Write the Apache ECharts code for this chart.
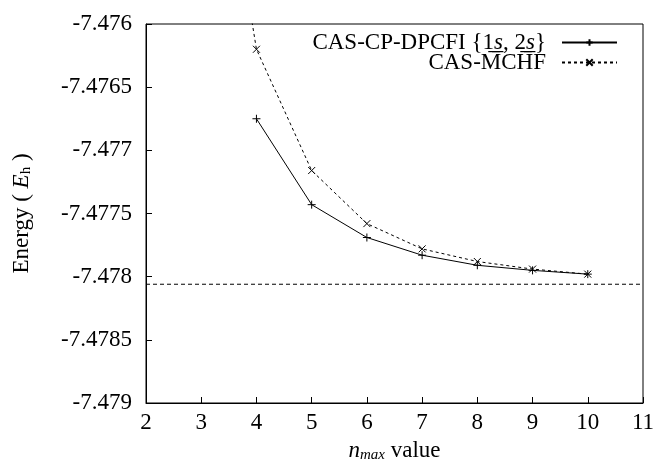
<!DOCTYPE html>
<html>
<head>
<meta charset="utf-8">
<script src="https://cdn.jsdelivr.net/npm/echarts@6/dist/echarts.min.js"></script>
<style>
  html, body { margin: 0; padding: 0; background: #fff; }
</style>
</head>
<body>
<div id="myChart" style="width: 654px; height: 465px;"></div>
<script>
// n_max values
var nmax = [3, 4, 5, 6, 7, 8, 9, 10];
// CAS-CP-DPCFI {1s,2s}
var dpcfiX = [4, 5, 6, 7, 8, 9, 10];
var dpcfiE = [-7.47675, -7.47743, -7.47769, -7.47783, -7.47791, -7.47795, -7.47798];
// CAS-MCHF (point at 3 lies above the plot range)
var mchfE = [-7.4735, -7.47620, -7.47716, -7.47758, -7.47778, -7.47788, -7.47794, -7.47798];
// reference energy (dashed horizontal line across the plot)
var refX = [2, 11];
var refEnergy = -7.47806;

var names = ["CAS-CP-DPCFI", "CAS-MCHF"];
var font = "Liberation Serif";
var fs = 23;

var myChart = echarts.init(document.getElementById("myChart"));

myChart.setOption({
  animation: false,
  textStyle: { fontFamily: font, color: "#000" },
  grid: {
    left: 146, right: 11, top: 24, bottom: 62,
    containLabel: false,
    outerBoundsMode: "none",
    show: true, borderColor: "#000", borderWidth: 1
  },
  legend: {
    orient: "vertical",
    right: 31,
    top: 26,
    align: "right",
    itemWidth: 55,
    itemHeight: 8,
    itemGap: -3,
    data: names,
    textStyle: {
      fontFamily: font, fontSize: fs, color: "#000",
      padding: [0, 11, 0, 0],
      rich: {
        n: { fontFamily: font, fontSize: fs, color: "#000" },
        u: { fontFamily: font, fontSize: fs, color: "#000" },
        s: { fontFamily: font, fontSize: fs, color: "#000", fontStyle: "italic" }
      }
    },
    formatter: function (name) {
      if (name === names[0]) {
        return "{n|CAS-CP-DPCFI {}{u|1\u0332}{s|s\u0332}{n|, }{u|2\u0332}{s|s\u0332}{n|\u200B}}";
      }
      return name;
    }
  },
  xAxis: {
    type: "value",
    min: 2, max: 11, interval: 1,
    name: "{i|n}{sub|max}{r| value}",
    nameLocation: "middle",
    nameGap: 35,
    nameTextStyle: {
      rich: {
        i: { fontFamily: font, fontSize: fs, fontStyle: "italic", color: "#000" },
        sub: { fontFamily: font, fontSize: 15, fontStyle: "italic", color: "#000", padding: [10, 0, 0, 0] },
        r: { fontFamily: font, fontSize: fs, color: "#000" }
      }
    },
    axisLine: { show: true, lineStyle: { color: "#000", width: 1 } },
    axisTick: { inside: true, length: 6, lineStyle: { color: "#000" } },
    axisLabel: { fontFamily: font, fontSize: fs, color: "#000", margin: 8 },
    splitLine: { show: false }
  },
  yAxis: {
    type: "value",
    min: -7.479, max: -7.476, interval: 0.0005,
    name: "Energy ( {i|E}{sub|h} )",
    nameLocation: "middle",
    nameGap: 112,
    nameTextStyle: {
      fontFamily: font, fontSize: fs, color: "#000",
      rich: {
        i: { fontFamily: font, fontSize: fs, fontStyle: "italic", color: "#000" },
        sub: { fontFamily: font, fontSize: 15, color: "#000", padding: [10, 0, 0, 0] }
      }
    },
    axisLine: { show: true, lineStyle: { color: "#000", width: 1 } },
    axisTick: { inside: true, length: 6, lineStyle: { color: "#000" } },
    axisLabel: {
      fontFamily: font, fontSize: fs, color: "#000", margin: 14,
      formatter: function (v) { return String(+v.toFixed(4)); }
    },
    splitLine: { show: false }
  },
  series: [
    {
      name: names[0],
      type: "line",
      data: dpcfiX.map(function (x, i) { return [x, dpcfiE[i]]; }),
      symbol: "path://M0,5L10,5M5,0L5,10",
      symbolSize: 8,
      itemStyle: { color: "#000", borderColor: "#000", borderWidth: 1 },
      lineStyle: { color: "#000", width: 1 },
      clip: true
    },
    {
      name: names[1],
      type: "line",
      data: nmax.map(function (x, i) { return [x, mchfE[i]]; }),
      symbol: "path://M0,0L10,10M10,0L0,10",
      symbolSize: 7,
      itemStyle: { color: "#000", borderColor: "#000", borderWidth: 1 },
      lineStyle: { color: "#000", width: 1, type: [3, 3] },
      clip: true
    },
    {
      name: "reference",
      type: "line",
      data: refX.map(function (x) { return [x, refEnergy]; }),
      symbol: "none",
      silent: true,
      lineStyle: { color: "#000", width: 1, type: [4, 3] }
    }
  ]
});
</script>
</body>
</html>
